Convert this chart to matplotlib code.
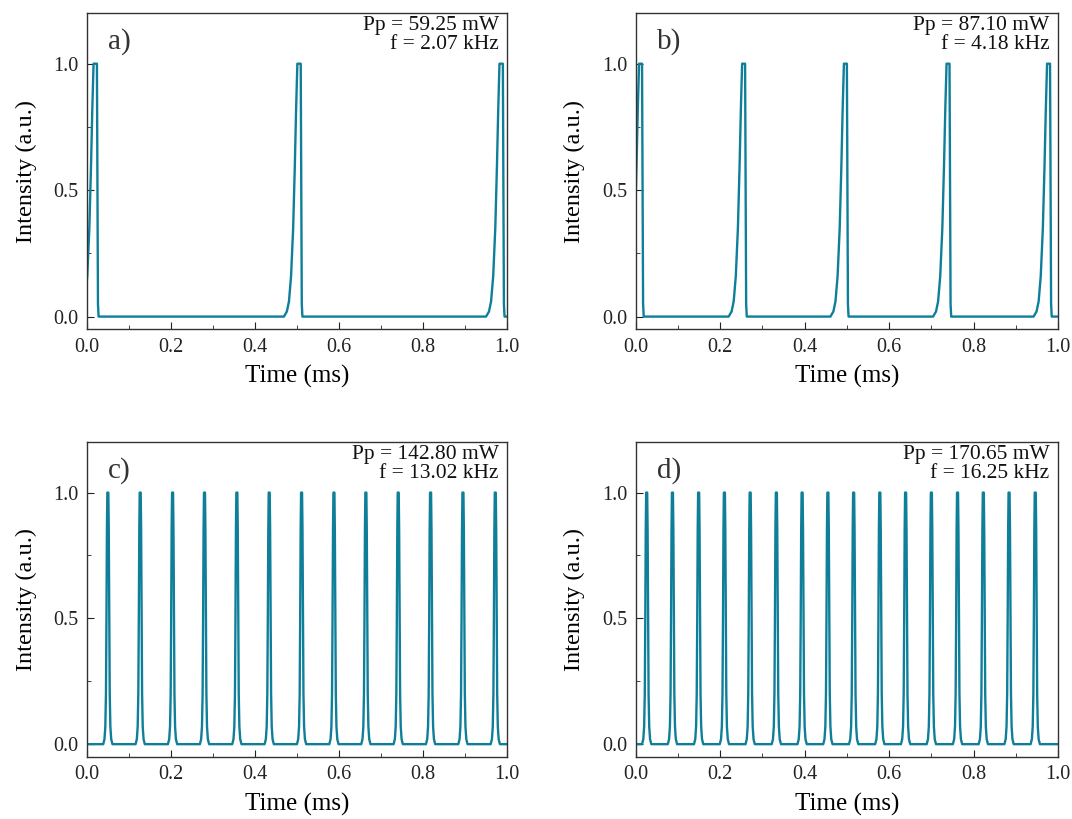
import numpy as np
import matplotlib
matplotlib.use('Agg')
from matplotlib import pyplot as plt
from matplotlib.ticker import MultipleLocator

plt.rcParams['font.family'] = ['Liberation Serif', 'DejaVu Serif']

# pulse top positions (ms)
pulses_a = [0.016, 0.501, 0.982]
pulses_b = [0.008, 0.252, 0.493, 0.736, 0.974]
pulses_c = [0.050, 0.127, 0.204, 0.280, 0.357, 0.434, 0.511,
            0.588, 0.664, 0.741, 0.818, 0.895, 0.972]
pulses_d = [0.026, 0.087, 0.149, 0.210, 0.271, 0.333, 0.394, 0.455,
            0.516, 0.578, 0.639, 0.700, 0.762, 0.823, 0.884, 0.946]

# pulse shape templates (time offset from top start, intensity)
rise_slow_t = [-0.032, -0.025, -0.020, -0.015, -0.010, -0.006, -0.003, 0.0]
rise_slow_y = [0.0, 0.02, 0.06, 0.16, 0.35, 0.60, 0.82, 1.0]
fall_fast_t = [0.0025, 0.004]
fall_fast_y = [0.05, 0.0]

rise_sym_t = [-0.011, -0.008, -0.006, -0.0045, -0.0033, -0.0022, -0.0012]
rise_sym_y = [0.0, 0.02, 0.07, 0.20, 0.50, 0.85, 1.0]

labels = ['a)', 'b)', 'c)', 'd)']
pump = ['Pp = 59.25 mW', 'Pp = 87.10 mW', 'Pp = 142.80 mW', 'Pp = 170.65 mW']
freq = ['f = 2.07 kHz', 'f = 4.18 kHz', 'f = 13.02 kHz', 'f = 16.25 kHz']

color = '#0f7e99'


def slow_trace(tops, width):
    xs, ys = [-0.1], [0.0]
    for p in tops:
        xs += [p + t for t in rise_slow_t]
        ys += rise_slow_y
        xs += [p + width]
        ys += [1.0]
        xs += [p + width + t for t in fall_fast_t]
        ys += fall_fast_y
    xs.append(1.1)
    ys.append(0.0)
    return np.array(xs), np.array(ys)


def sym_trace(centers):
    xs, ys = [-0.1], [0.0]
    for c in centers:
        xs += [c + t for t in rise_sym_t]
        ys += rise_sym_y
        xs += [c - t for t in rise_sym_t[::-1]]
        ys += rise_sym_y[::-1]
    xs.append(1.1)
    ys.append(0.0)
    return np.array(xs), np.array(ys)


traces = [slow_trace(pulses_a, 0.008), slow_trace(pulses_b, 0.007),
          sym_trace(pulses_c), sym_trace(pulses_d)]

fig = plt.figure(figsize=(10.72, 8.19), dpi=100)
boxes = [[0.081, 0.598, 0.392, 0.386], [0.593, 0.598, 0.394, 0.386],
         [0.081, 0.076, 0.392, 0.384], [0.593, 0.076, 0.394, 0.384]]

for i in range(4):
    ax = fig.add_axes(boxes[i])
    x, y = traces[i]
    ax.plot(x, y, color=color, lw=1.7)
    ax.set_xlim(0, 1.0)
    ax.set_ylim(-0.05, 1.2)
    ax.xaxis.set_major_locator(MultipleLocator(0.2))
    ax.xaxis.set_minor_locator(MultipleLocator(0.1))
    ax.yaxis.set_major_locator(MultipleLocator(0.5))
    ax.yaxis.set_minor_locator(MultipleLocator(0.25))
    ax.tick_params(which='both', direction='in', labelsize=14.5, colors='#222222')
    ax.tick_params(which='major', length=5, pad=6)
    ax.tick_params(which='minor', length=3)
    for s in ax.spines.values():
        s.set_color('#333333')
        s.set_linewidth(1.0)
    ax.set_xlabel('Time (ms)', fontsize=18, labelpad=6)
    ax.set_ylabel('Intensity (a.u.)', fontsize=17.5, labelpad=12)
    ax.text(0.05, 0.91, labels[i], transform=ax.transAxes, fontsize=21,
            va='center', ha='left', color='#333333')
    ax.text(0.98, 0.99, pump[i] + '\n' + freq[i], transform=ax.transAxes,
            fontsize=15.5, va='top', ha='right', linespacing=1.0,
            multialignment='right', color='#111111')

plt.savefig('out.png', dpi=100)
